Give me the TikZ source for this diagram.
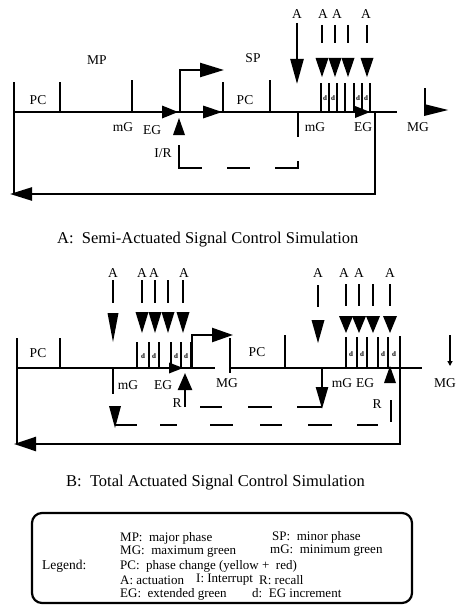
\documentclass[tikz,border=0pt]{standalone}
\usepackage{fontspec}
\setmainfont{Liberation Serif}
\usetikzlibrary{arrows.meta}
\newcommand\Tdown[4]{\fill ({#1-#4/2},{#2-#3}) -- ({#1+#4/2},{#2-#3}) -- (#1,#2) -- cycle;}
\newcommand\Tup[4]{\fill ({#1-#4/2},{#2+#3}) -- ({#1+#4/2},{#2+#3}) -- (#1,#2) -- cycle;}
\newcommand\Tright[4]{\fill ({#1-#3},{#2-#4/2}) -- ({#1-#3},{#2+#4/2}) -- (#1,#2) -- cycle;}
\begin{document}
\begin{tikzpicture}[x=1pt,y=-1pt,
  ln/.style={line width=2.4pt},
  tk/.style={line width=1.8pt},
  lbl/.style={font=\fontsize{13.5}{13.5}\selectfont, inner sep=0pt},
  dl/.style={font=\fontsize{7}{7}\selectfont\bfseries, inner sep=0pt},
  captxt/.style={font=\fontsize{16.5}{16.5}\selectfont, inner sep=0pt, anchor=west},
  legtxt/.style={font=\fontsize{13}{13}\selectfont, inner sep=0pt, anchor=west}]
\useasboundingbox (0,0) rectangle (457,610);

% ================= TOP DIAGRAM =================
\coordinate (t0) at (14,112);
\coordinate (t1) at (397,112);
\draw[ln] (t0) -- (t1);
\Tright{178}{112}{16}{13}
\Tright{222}{112}{19}{13}
\Tright{370}{112}{15}{12}
\draw[ln] (14,82) -- (14,194);
\foreach \x/\y in {60/82,132/80,223/82,270/80} \draw[ln] (\x,\y) -- (\x,112);
\Tup{179}{118}{17}{12}
\coordinate (tbr) at (180,112);
\coordinate (tbrE) at (224,70);
\draw[ln,-{Triangle[length=24pt,width=14pt]}] (tbr) |- (tbrE);
\draw[ln] (298,112) -- (298,137);
\coordinate (tA0) at (297,23);
\coordinate (tA1) at (297,84);
\draw[ln,-{Triangle[length=25pt,width=13pt]}] (tA0) -- (tA1);
\foreach \x in {322,335,348,367} {\draw[ln] (\x,25) -- (\x,43); \Tdown{\x}{77}{19}{13}}
\foreach \x in {321,329,337,345,354,362,370} \draw[tk] (\x,83) -- (\x,112);
\foreach \x in {325,333,358,366} \node[dl] at (\x,98) {d};
\coordinate (tR) at (375,112);
\coordinate (tL) at (10,194);
\draw[ln,-{Triangle[length=22pt,width=13pt]}] (tR) -- (375,194) -- (tL);
\draw[ln] (425,88) -- (425,113);
\fill (424,104) -- (448,110) -- (424,116) -- cycle;
\draw[ln] (179,145) -- (179,168) -- (202,168);
\draw[ln] (227,168) -- (250,168);
\draw[ln] (275,168) -- (298,168) -- (298,161);

\node[lbl] (tMP) at (97,60) {MP};
\node[lbl] (tPC1) at (38,100) {PC};
\node[lbl] (tPC2) at (245,100) {PC};
\node[lbl] (tSP) at (253,58) {SP};
\node[lbl] (tmG1) at (123,127) {mG};
\node[lbl] (tEG1) at (152,130) {EG};
\node[lbl] (tmG2) at (315,127) {mG};
\node[lbl] (tEG2) at (363,127) {EG};
\node[lbl] (tMG) at (418,127) {MG};
\node[lbl] (tIR) at (163,153) {I/R};
\foreach \x [count=\i] in {297,323,337,366} \node[lbl] (tAl\i) at (\x,14) {A};

\node[captxt] (capA) at (57,240) {A:\ \ Semi-Actuated Signal Control Simulation};

% ================= BOTTOM DIAGRAM =================
\draw[ln] (17,368) -- (215,368);
\draw[ln] (230,368) -- (422,368);
\draw[ln] (17,338) -- (17,444);
\draw[ln] (60,338) -- (60,368);
% left actuation group
\draw[ln] (113,280) -- (113,303);
\Tdown{113}{342}{29}{11}
\foreach \x in {142,155,168,183} {\draw[ln] (\x,280) -- (\x,303); \Tdown{\x}{333}{21}{13}}
\foreach \x in {137,149,159,171,181,191} \draw[tk] (\x,342) -- (\x,368);
\foreach \x in {143,154,176,186} \node[dl] at (\x,356) {d};
\Tright{183}{368}{14}{11}
\coordinate (bR1a) at (185,407);
\coordinate (bR1b) at (185,373);
\draw[ln,-{Triangle[length=17pt,width=14pt]}] (bR1a) -- (bR1b);
\draw[ln] (113,368) -- (113,394);
\Tdown{115}{428}{22}{12}
\draw[ln] (115,425) -- (137,425);
\foreach \a/\b in {160/177,210/233,260/282,308/332,357/378} \draw[ln] (\a,425) -- (\b,425);
\draw[ln] (391,400) -- (391,422);
\foreach \a/\b in {200/222,248/272,297/322} \draw[ln] (\a,407) -- (\b,407);
\coordinate (bm2a) at (322,368);
\coordinate (bm2b) at (322,409);
\draw[ln,-{Triangle[length=22pt,width=12pt]}] (bm2a) -- (bm2b);
\coordinate (bbr) at (192,368);
\coordinate (bbrE) at (233,335);
\draw[ln,-{Triangle[length=21pt,width=14pt]}] (bbr) |- (bbrE);
\draw[ln] (230,338) -- (230,373);
\draw[ln] (285,335) -- (285,368);
% right actuation group
\draw[ln] (318,285) -- (318,307);
\Tdown{318}{343}{23}{13}
\foreach \x in {346,359,373,390} {\draw[ln] (\x,284) -- (\x,306); \Tdown{\x}{333}{17}{14}}
\foreach \x in {346,357,367,378,388} \draw[tk] (\x,337) -- (\x,368);
\foreach \x in {351,362,383,394} \node[dl] at (\x,354) {d};
\coordinate (bRt) at (400,336);
\coordinate (bLt) at (14,444);
\draw[ln,-{Triangle[length=22pt,width=14pt]}] (bRt) -- (400,444) -- (bLt);
\Tup{390}{366}{17}{12}
\coordinate (bMGa) at (450,335);
\coordinate (bMGb) at (450,366);
\draw[tk,-{Triangle[length=5pt,width=5pt]}] (bMGa) -- (bMGb);

\node[lbl] (bPC1) at (38,353) {PC};
\node[lbl] (bPC2) at (257,352) {PC};
\node[lbl] (bmG1) at (128,385) {mG};
\node[lbl] (bEG1) at (163,385) {EG};
\node[lbl] (bR1) at (177,403) {R};
\node[lbl] (bMG1) at (227,383) {MG};
\node[lbl] (bmG2) at (342,383) {mG};
\node[lbl] (bEG2) at (365,383) {EG};
\node[lbl] (bR2) at (377,404) {R};
\node[lbl] (bMG2) at (445,383) {MG};
\foreach \x [count=\i] in {113,142,154,184,318,344,359,390} \node[lbl] (bAl\i) at (\x,273) {A};

\node[captxt] (capB) at (66,483) {B:\ \ Total Actuated Signal Control Simulation};

% ================= LEGEND =================
\draw[line width=2.2pt, rounded corners=10pt] (32,513) rectangle (412,603);
\node[legtxt, font=\fontsize{13.5}{13.5}\selectfont] (lgL) at (42,566) {Legend:};
\node[legtxt] (lg1) at (120,538) {MP:\ \ major phase};
\node[legtxt] (lg1b) at (272,537) {SP:\ \ minor phase};
\node[legtxt] (lg2) at (120,552) {MG:\ \ maximum green};
\node[legtxt] (lg2b) at (270,551) {mG:\ \ minimum green};
\node[legtxt] (lg3) at (120,566) {PC:\ \ phase change (yellow + \ red)};
\node[legtxt] (lg4) at (120,580) {A:\ actuation};
\node[legtxt] (lg4b) at (196,580) {I:\ Interrupt};
\node[legtxt] (lg4c) at (259,580) {R:\ recall};
\node[legtxt] (lg5) at (120,594) {EG:\ \ extended green};
\node[legtxt] (lg5b) at (252,593) {d:\ \ EG increment};
\end{tikzpicture}
\end{document}
